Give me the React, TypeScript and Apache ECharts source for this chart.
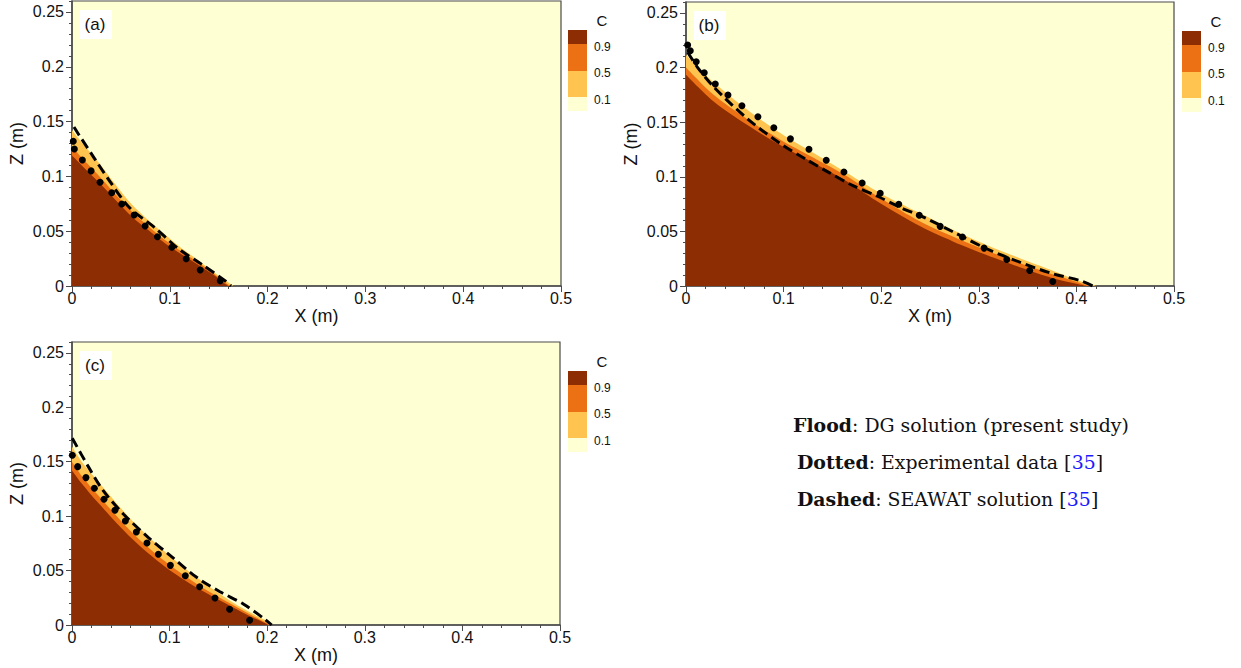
import React, { useEffect, useRef } from "react";
import * as echarts from "echarts";

type P = [number, number][];

// ---------- data ----------
const PANEL_LABELS = ["(a)", "(b)", "(c)"];
const CBAR_LABELS = ["0.9", "0.5", "0.1"];
const CBAR_TITLE = "C";
const X_NAME = "X (m)";
const Z_NAME = "Z (m)";

// Panel (a)
const A_DG09: P = [[0, 0.119], [0.01, 0.110], [0.027, 0.095], [0.045, 0.078], [0.061, 0.0635], [0.078, 0.051], [0.095, 0.039], [0.112, 0.029], [0.129, 0.0195], [0.145, 0.010], [0.155, 0.003], [0.16, 0]];
const A_DG05: P = [[0, 0.127], [0.01, 0.117], [0.027, 0.101], [0.045, 0.083], [0.061, 0.068], [0.078, 0.0545], [0.095, 0.042], [0.112, 0.0315], [0.129, 0.0215], [0.145, 0.0115], [0.155, 0.004], [0.162, 0]];
const A_DG01: P = [[0, 0.142], [0.01, 0.131], [0.027, 0.113], [0.045, 0.092], [0.061, 0.0745], [0.078, 0.060], [0.095, 0.047], [0.112, 0.0345], [0.129, 0.0235], [0.145, 0.0125], [0.157, 0.005], [0.165, 0]];
const A_EXP: P = [[0.0013, 0.132], [0.0024, 0.125], [0.0106, 0.115], [0.0195, 0.105], [0.0287, 0.0946], [0.0406, 0.0851], [0.0509, 0.0748], [0.0635, 0.0648], [0.0748, 0.0547], [0.0874, 0.045], [0.1021, 0.0353], [0.1168, 0.0249], [0.1311, 0.0146], [0.1516, 0.0048]];
const A_SEAWAT: P = [[0.002, 0.145], [0.0065, 0.1387], [0.0229, 0.1165], [0.0389, 0.0952], [0.0584, 0.0718], [0.0843, 0.0535], [0.1083, 0.0344], [0.1335, 0.0192], [0.1568, 0.0046], [0.1626, 0]];

// Panel (b)
const B_DG09: P = [[0, 0.1935], [0.0283, 0.169], [0.0625, 0.1477], [0.0966, 0.129], [0.1307, 0.1126], [0.165, 0.0957], [0.199, 0.0757], [0.24, 0.0546], [0.274, 0.0406], [0.308, 0.0284], [0.342, 0.0172], [0.376, 0.0071], [0.40, 0.002], [0.41, 0]];
const B_DG05: P = [[0, 0.200], [0.0283, 0.175], [0.0625, 0.153], [0.0966, 0.134], [0.1307, 0.1175], [0.165, 0.1005], [0.199, 0.0805], [0.24, 0.059], [0.274, 0.045], [0.308, 0.0325], [0.342, 0.021], [0.376, 0.0105], [0.40, 0.004], [0.414, 0]];
const B_DG01: P = [[0, 0.2115], [0.0283, 0.1865], [0.0625, 0.1615], [0.0966, 0.140], [0.1307, 0.1217], [0.165, 0.1034], [0.199, 0.085], [0.24, 0.0665], [0.274, 0.051], [0.308, 0.0376], [0.342, 0.0254], [0.376, 0.014], [0.40, 0.0055], [0.421, 0]];
const B_EXP: P = [[0.0017, 0.2206], [0.0044, 0.2154], [0.0105, 0.2053], [0.0187, 0.1952], [0.030, 0.1849], [0.043, 0.1748], [0.0573, 0.165], [0.0737, 0.1549], [0.090, 0.1448], [0.107, 0.1347], [0.126, 0.1252], [0.1437, 0.1151], [0.1618, 0.1044], [0.1805, 0.0943], [0.199, 0.0849], [0.218, 0.0748], [0.239, 0.0647], [0.2604, 0.0546], [0.2832, 0.0448], [0.3054, 0.0347], [0.3287, 0.0243], [0.3522, 0.0142], [0.3758, 0.0041]];
const B_SEAWAT: P = [[0.0017, 0.214], [0.012, 0.2], [0.0283, 0.1824], [0.0625, 0.1534], [0.0966, 0.1304], [0.1229, 0.116], [0.1467, 0.1038], [0.1716, 0.0916], [0.1956, 0.0824], [0.2201, 0.0717], [0.2433, 0.0631], [0.274, 0.0494], [0.308, 0.0341], [0.342, 0.0218], [0.376, 0.0112], [0.4037, 0.005], [0.417, 0]];

// Panel (c)
const C_DG09: P = [[0, 0.142], [0.01, 0.130], [0.027, 0.112], [0.061, 0.0797], [0.0953, 0.0536], [0.129, 0.0337], [0.1636, 0.0168], [0.185, 0.007], [0.198, 0.0016], [0.201, 0]];
const C_DG05: P = [[0, 0.150], [0.01, 0.137], [0.027, 0.119], [0.061, 0.0855], [0.0953, 0.0585], [0.129, 0.037], [0.1636, 0.019], [0.185, 0.0085], [0.199, 0.002], [0.2025, 0]];
const C_DG01: P = [[0, 0.164], [0.01, 0.150], [0.027, 0.1317], [0.061, 0.0965], [0.0953, 0.0674], [0.129, 0.0429], [0.1636, 0.0214], [0.19, 0.008], [0.201, 0.003], [0.2046, 0]];
const C_EXP: P = [[0.0003, 0.156], [0.0058, 0.1455], [0.0143, 0.1354], [0.0229, 0.1256], [0.0328, 0.1155], [0.044, 0.1054], [0.0546, 0.0956], [0.0659, 0.0855], [0.0768, 0.0754], [0.0885, 0.065], [0.1008, 0.0548], [0.1161, 0.0453], [0.1308, 0.0352], [0.1465, 0.0248], [0.1615, 0.0144], [0.182, 0.0043]];
const C_SEAWAT: P = [[0.0003, 0.1716], [0.0167, 0.1455], [0.032, 0.1234], [0.0526, 0.102], [0.078, 0.0806], [0.102, 0.0628], [0.1277, 0.0438], [0.1516, 0.0306], [0.1755, 0.0193], [0.1977, 0.0052], [0.2046, 0]];

const LEGEND_LINES = [
  "{b|Flood}: DG solution (present study)",
  "{b|Dotted}: Experimental data [{blue|35}]",
  "{b|Dashed}: SEAWAT solution [{blue|35}]",
];

// ---------- styling ----------
const BROWN = "#8c2d04";
const ORANGE = "#ec7014";
const LIGHT = "#fec44f";
const PALE = "#ffffd4";
const SANS = '"Liberation Sans", Arial, sans-serif';
const SERIF = '"DejaVu Serif", serif';
const SERIF_SIZE = 18;
const SERIF_STRETCH = 1.05;

const GRIDS = [
  { left: 72, top: 1, width: 489, height: 285 },
  { left: 686, top: 2, width: 488, height: 284 },
  { left: 72, top: 342, width: 488, height: 283 },
];

const PANELS = [
  { c09: A_DG09, c05: A_DG05, c01: A_DG01, exp: A_EXP, sea: A_SEAWAT },
  { c09: B_DG09, c05: B_DG05, c01: B_DG01, exp: B_EXP, sea: B_SEAWAT },
  { c09: C_DG09, c05: C_DG05, c01: C_DG01, exp: C_EXP, sea: C_SEAWAT },
];

export default function App() {
  const ref = useRef<HTMLDivElement>(null);
  useEffect(() => {
    if (!ref.current) return;
    const chart = echarts.init(ref.current, null, { renderer: "svg" });
    const axisColor = "#4a4a4a";

    const grid = GRIDS.map((g) => ({
      ...g,
      show: true,
      backgroundColor: PALE,
      borderColor: axisColor,
      borderWidth: 1.2,
    }));

    const xAxis = GRIDS.map((_, i) => ({
      type: "value",
      gridIndex: i,
      min: 0,
      max: 0.5,
      interval: 0.1,
      name: X_NAME,
      nameLocation: "middle",
      nameGap: 19,
      nameTextStyle: { fontFamily: SANS, fontSize: 18, color: "#111", verticalAlign: "top" },
      axisLine: { show: true, onZero: false, lineStyle: { color: axisColor, width: 1.5 } },
      axisTick: { show: true, length: 6, lineStyle: { color: axisColor } },
      minorTick: { show: true, splitNumber: 5, length: 3, lineStyle: { color: axisColor } },
      axisLabel: { fontFamily: SANS, fontSize: 16, color: "#111", margin: 4 },
      splitLine: { show: false },
    }));

    const yAxis: any[] = [];
    GRIDS.forEach((_, i) => {
      yAxis.push({
        type: "value",
        gridIndex: i,
        min: 0,
        max: 0.26,
        interval: 0.05,
        name: Z_NAME,
        nameLocation: "middle",
        nameGap: 46,
        nameTextStyle: { fontFamily: SANS, fontSize: 18, color: "#111" },
        axisLine: { show: true, onZero: false, lineStyle: { color: axisColor, width: 1.5 } },
        axisTick: { show: true, length: 6, lineStyle: { color: axisColor } },
        axisLabel: { fontFamily: SANS, fontSize: 16, color: "#111", margin: 8, showMaxLabel: false },
        splitLine: { show: false },
      });
      yAxis.push({
        type: "value",
        gridIndex: i,
        position: "left",
        min: 0,
        max: 0.26,
        interval: 0.01,
        axisLine: { show: false },
        axisTick: { show: true, length: 3, lineStyle: { color: axisColor } },
        axisLabel: { show: false },
        splitLine: { show: false },
      });
    });

    const series: any[] = [];
    PANELS.forEach((p, i) => {
      const base = { xAxisIndex: i, yAxisIndex: 2 * i, silent: true };
      const area = (data: P, color: string) => ({
        ...base,
        type: "line",
        data,
        symbol: "none",
        smooth: 0.3,
        lineStyle: { width: 0, opacity: 0 },
        areaStyle: { color, opacity: 1 },
      });
      series.push(area(p.c01, LIGHT));
      series.push(area(p.c05, ORANGE));
      series.push(area(p.c09, BROWN));
      series.push({
        ...base,
        type: "line",
        data: p.sea,
        symbol: "none",
        smooth: 0.3,
        lineStyle: { color: "#000", width: 3, type: [10, 5] },
        z: 3,
      });
      series.push({
        ...base,
        type: "scatter",
        data: p.exp,
        symbol: "circle",
        symbolSize: 7,
        itemStyle: { color: "#000", opacity: 1 },
        clip: false,
        z: 4,
      });
    });

    const graphic: any[] = [];
    const cbColors = [BROWN, ORANGE, LIGHT, PALE];
    const cbHeights = [14, 27, 26, 14];
    GRIDS.forEach((g, i) => {
      graphic.push({
        type: "rect",
        shape: { x: g.left + 8, y: g.top + 9, width: 32, height: 29 },
        style: { fill: "#ffffff" },
        z: 10,
      });
      graphic.push({
        type: "text",
        x: g.left + 23,
        y: g.top + 23,
        style: {
          text: PANEL_LABELS[i],
          fontFamily: SANS,
          fontSize: 17,
          fill: "#111",
          align: "center",
          verticalAlign: "middle",
        },
        z: 11,
      });
      let yy = g.top + 29;
      cbColors.forEach((c, k) => {
        graphic.push({
          type: "rect",
          shape: { x: g.left + 496, y: yy, width: 19, height: cbHeights[k] },
          style: { fill: c },
        });
        yy += cbHeights[k];
      });
      graphic.push({
        type: "text",
        x: g.left + 530,
        y: g.top + 19.5,
        style: { text: CBAR_TITLE, fontFamily: SANS, fontSize: 15, fill: "#111", align: "center", verticalAlign: "middle" },
      });
      const ly = [45.5, 72, 98.5];
      CBAR_LABELS.forEach((t, k) => {
        graphic.push({
          type: "text",
          x: g.left + 522,
          y: g.top + ly[k],
          style: { text: t, fontFamily: SANS, fontSize: 12, fill: "#111", align: "left", verticalAlign: "middle" },
        });
      });
    });

    const legendPos = [
      [793, 426],
      [797, 463],
      [797, 500],
    ];
    LEGEND_LINES.forEach((t, k) => {
      graphic.push({
        type: "text",
        x: legendPos[k][0],
        y: legendPos[k][1],
        scaleX: SERIF_STRETCH,
        style: {
          text: t,
          fontFamily: SERIF,
          fontSize: SERIF_SIZE,
          fill: "#111",
          align: "left",
          verticalAlign: "middle",
          rich: {
            b: { fontFamily: SERIF, fontSize: SERIF_SIZE, fontWeight: "bold", fill: "#111" },
            blue: { fontFamily: SERIF, fontSize: SERIF_SIZE, fill: "#1a1aff" },
          },
        },
      });
    });

    chart.setOption({
      animation: false,
      grid,
      xAxis,
      yAxis,
      series,
      graphic,
    });
    return () => chart.dispose();
  }, []);

  return (
    <div
      ref={ref}
      style={{ position: "absolute", left: 0, top: 0, width: 1241, height: 668, background: "#fff" }}
    />
  );
}
